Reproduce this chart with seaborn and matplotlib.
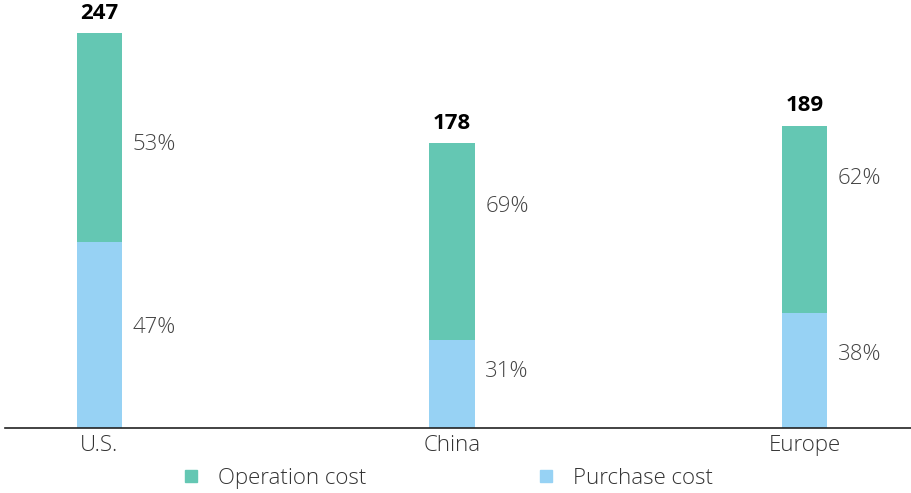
import numpy as np
import pandas as pd
import seaborn as sns
import matplotlib.pyplot as plt
from matplotlib.lines import Line2D

regions = ['U.S.', 'China', 'Europe']
totals = [247, 178, 189]
purchase_pct = [47, 31, 38]
operation_pct = [53, 69, 62]

teal = '#64C7B3'
blue = '#97D2F4'

sns.set_style('white')
plt.rcParams['font.family'] = ['Open Sans', 'DejaVu Sans']

purchase = [t * p / 100 for t, p in zip(totals, purchase_pct)]
df = pd.DataFrame({'region': regions, 'total': totals, 'purchase': purchase})

fig = plt.figure(figsize=(9.11, 4.93), dpi=100)
ax = fig.add_axes([5 / 911, 65 / 493, 906 / 911, 428 / 493])

sns.barplot(data=df, x='region', y='total', color=teal, width=0.128,
            saturation=1, linewidth=0, ax=ax)
sns.barplot(data=df, x='region', y='purchase', color=blue, width=0.128,
            saturation=1, linewidth=0, ax=ax)

ax.set_xlim(-0.268, 2.302)
ax.set_ylim(0, 267.7)

# where inside each segment the percentage sits (fraction of segment height)
op_frac = [0.47, 0.68, 0.72]
pu_frac = [0.54, 0.64, 0.64]

for i, (t, pu) in enumerate(zip(totals, purchase)):
    ax.text(i, t + 6, str(t), ha='center', va='bottom', fontsize=16,
            fontweight='bold', color='black')
    xlab = i + 0.064 + 0.03
    ax.text(xlab, pu + (t - pu) * op_frac[i], f'{operation_pct[i]}%',
            ha='left', va='center', fontsize=16, color='#444444',
            fontweight='light')
    ax.text(xlab, pu * pu_frac[i], f'{purchase_pct[i]}%',
            ha='left', va='center', fontsize=16, color='#444444',
            fontweight='light')

for s in ['top', 'right', 'left']:
    ax.spines[s].set_visible(False)
ax.spines['bottom'].set_color('#222222')
ax.spines['bottom'].set_linewidth(1.2)
ax.set_yticks([])
ax.set_xlabel('')
ax.set_ylabel('')
ax.tick_params(axis='x', length=0, pad=5, labelsize=16, labelcolor='#333333')
for lb in ax.get_xticklabels():
    lb.set_fontweight('light')

handles = [
    Line2D([], [], marker='s', linestyle='none', color=teal, markersize=8),
    Line2D([], [], marker='s', linestyle='none', color=blue, markersize=8),
]
leg = fig.legend(handles, ['Operation cost', 'Purchase cost'], ncol=2,
                 loc='center', bbox_to_anchor=(0.49, 0.03), frameon=False,
                 fontsize=16, handlelength=1, handletextpad=0.72,
                 columnspacing=7.6)
for t in leg.get_texts():
    t.set_color('#333333')
    t.set_fontweight('light')

fig.savefig('out.png', dpi=100)
